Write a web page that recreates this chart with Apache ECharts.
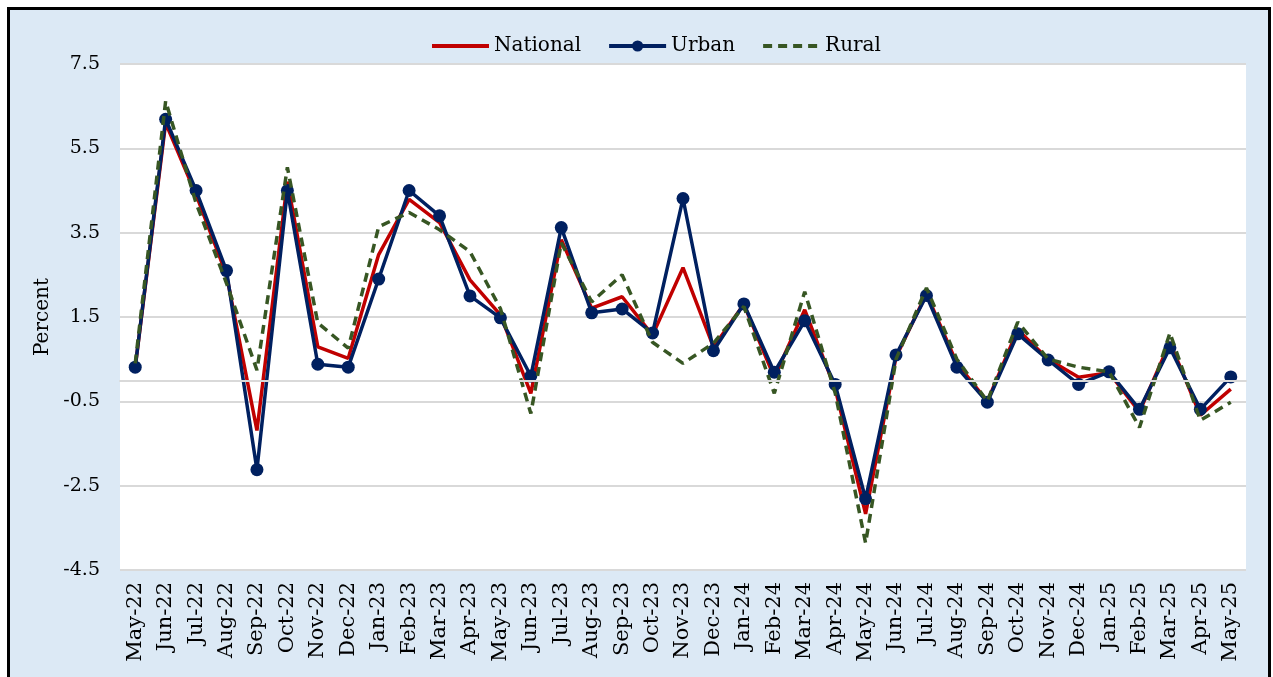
<!DOCTYPE html>
<html>
<head>
<meta charset="utf-8">
<script src="https://cdn.jsdelivr.net/npm/echarts@6/dist/echarts.min.js"></script>
<style>
    html, body {margin: 0; padding: 0; background: #fff; overflow: hidden;}
    .frame {position: absolute; left: 7px; top: 7px; width: 1258px; height: 700px;
        border: 3px solid #000; background: #dce9f5;}
    #chart {position: absolute; left: 0; top: 0; width: 1273px; height: 677px;}
</style>
</head>
<body>
<div class="frame"></div>
<div id="chart"></div>
<script>
var months = ['May-22', 'Jun-22', 'Jul-22', 'Aug-22', 'Sep-22', 'Oct-22', 'Nov-22', 'Dec-22',
    'Jan-23', 'Feb-23', 'Mar-23', 'Apr-23', 'May-23', 'Jun-23', 'Jul-23', 'Aug-23', 'Sep-23',
    'Oct-23', 'Nov-23', 'Dec-23', 'Jan-24', 'Feb-24', 'Mar-24', 'Apr-24', 'May-24', 'Jun-24',
    'Jul-24', 'Aug-24', 'Sep-24', 'Oct-24', 'Nov-24', 'Dec-24', 'Jan-25', 'Feb-25', 'Mar-25',
    'Apr-25', 'May-25'];

var national = [0.31, 6.1, 4.4, 2.5, -1.19, 4.71, 0.79, 0.52, 2.98, 4.29, 3.74, 2.38, 1.55,
    -0.31, 3.33, 1.71, 1.98, 1.07, 2.67, 0.79, 1.8, 0.07, 1.67, -0.2, -3.17, 0.55, 2.05, 0.4,
    -0.5, 1.2, 0.5, 0.07, 0.18, -0.75, 0.9, -0.83, -0.21];

var urban = [0.31, 6.19, 4.5, 2.6, -2.12, 4.5, 0.38, 0.31, 2.4, 4.5, 3.9, 2.0, 1.48, 0.1,
    3.62, 1.6, 1.69, 1.12, 4.31, 0.7, 1.81, 0.19, 1.41, -0.1, -2.81, 0.6, 2.01, 0.31, -0.52,
    1.1, 0.48, -0.1, 0.2, -0.69, 0.77, -0.69, 0.08];

var rural = [0.4, 6.62, 4.2, 2.3, 0.24, 5.05, 1.36, 0.76, 3.64, 3.98, 3.57, 3.05, 1.7, -0.79,
    3.26, 1.86, 2.5, 0.9, 0.4, 0.88, 1.75, -0.31, 2.1, -0.3, -3.86, 0.5, 2.19, 0.5, -0.5, 1.38,
    0.5, 0.31, 0.2, -1.12, 1.12, -0.95, -0.52];

// y axis goes -4.5 .. 7.5 in steps of 2
var yMin = -4.5, yMax = 7.5, yStep = 2;

var font = 'DejaVu Serif';
var gridColor = '#d9d9d9';

var chart = echarts.init(document.getElementById('chart'));
chart.setOption({
    backgroundColor: 'transparent',
    animation: false,
    legend: {
        left: 425,
        top: 31,
        itemWidth: 57,
        itemHeight: 14,
        itemGap: 26,
        lineStyle: {width: 4},
        textStyle: {fontFamily: font, fontSize: 20, color: '#000'},
        data: [
            {name: 'National', itemStyle: {opacity: 0}},
            {name: 'Urban'},
            {name: 'Rural', itemStyle: {opacity: 0}}
        ]
    },
    grid: {
        left: 120, right: 27, top: 64, bottom: 107,
        show: true, backgroundColor: '#fff', borderWidth: 0
    },
    xAxis: {
        type: 'category',
        data: months,
        boundaryGap: true,
        axisLine: {lineStyle: {color: gridColor, width: 2}},
        axisTick: {show: false},
        axisLabel: {rotate: 90, interval: 0, margin: 12, fontFamily: font, fontSize: 21, color: '#000'}
    },
    yAxis: {
        type: 'value',
        min: yMin,
        max: yMax,
        interval: yStep,
        name: 'Percent',
        nameLocation: 'middle',
        nameRotate: 90,
        nameGap: 65,
        nameTextStyle: {fontFamily: font, fontSize: 20, color: '#000'},
        axisLine: {show: false},
        axisTick: {show: false},
        splitLine: {lineStyle: {color: gridColor, width: 2}},
        axisLabel: {margin: 20, fontFamily: font, fontSize: 19, color: '#000',
            formatter: function(v) { return v.toFixed(1); }}
    },
    series: [
        {
            name: 'National',
            type: 'line',
            data: national,
            showSymbol: false,
            symbol: 'none',
            lineStyle: {color: '#c00000', width: 3.5},
            itemStyle: {color: '#c00000'},
            // zero line like excel's horizontal axis
            markLine: {
                silent: true,
                symbol: 'none',
                label: {show: false},
                lineStyle: {color: gridColor, width: 2, type: 'solid'},
                data: [{yAxis: 0}]
            },
            z: 2
        },
        {
            name: 'Urban',
            type: 'line',
            data: urban,
            symbol: 'circle',
            symbolSize: 13,
            lineStyle: {color: '#002060', width: 3.5},
            itemStyle: {color: '#002060'},
            z: 3
        },
        {
            name: 'Rural',
            type: 'line',
            data: rural,
            showSymbol: false,
            symbol: 'none',
            lineStyle: {color: '#375623', width: 3.5, type: [9, 6]},
            itemStyle: {color: '#375623'},
            z: 4
        }
    ]
});
</script>
</body>
</html>
